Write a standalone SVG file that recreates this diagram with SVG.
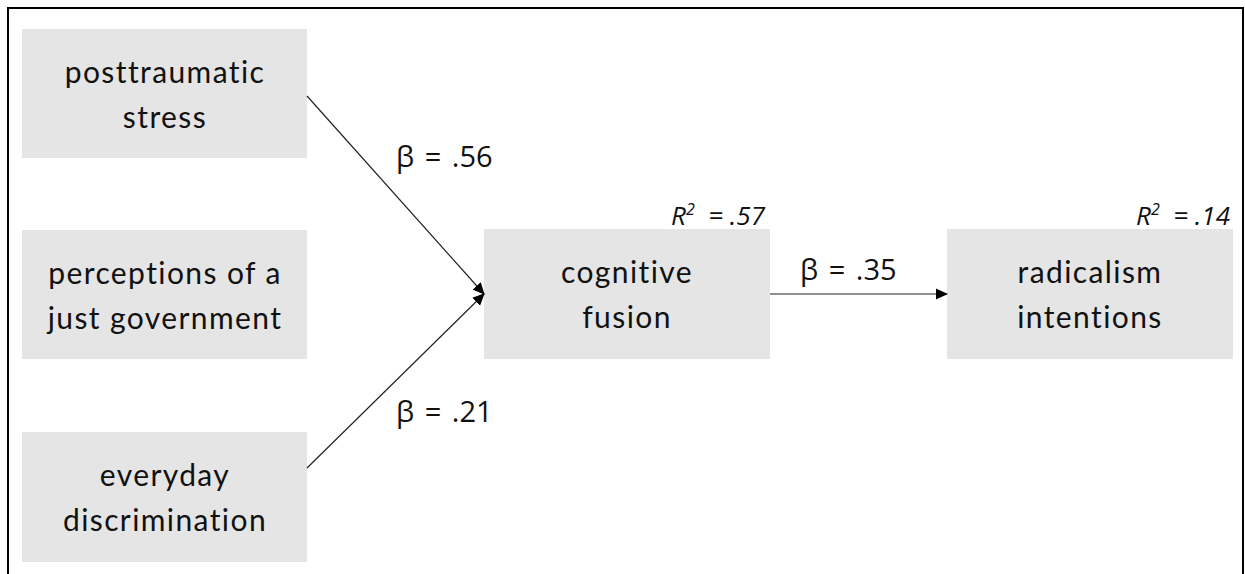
<svg xmlns="http://www.w3.org/2000/svg" width="1245" height="574" viewBox="0 0 1245 574">
<style>
.box{fill:#e5e5e5}
.lbl{font-family:Lato,"Open Sans",sans-serif;font-size:30px;letter-spacing:1.4px;fill:#111;text-anchor:middle}
.b{font-family:"Open Sans","Liberation Sans",sans-serif;font-size:29px;word-spacing:3px;fill:#111}
.r{font-family:"Open Sans","Liberation Sans",sans-serif;font-size:26px;font-style:italic;fill:#111}
.c{stroke:#222;stroke-width:1.2;fill:none}
</style>
<defs>
<marker id="ah" markerWidth="12" markerHeight="12" refX="11" refY="6" orient="auto" markerUnits="userSpaceOnUse" viewBox="0 0 12 12">
<path d="M0,0.5 L12,6 L0,11.5 z" fill="#000"/>
</marker>
</defs>
<rect width="1245" height="574" fill="#fff"/>
<path d="M8,574 V8 H1243 V574" fill="none" stroke="#000" stroke-width="2"/>
<g id="n1"><rect class="box" x="22" y="29" width="285" height="129"/>
<text class="lbl" x="165" y="83">posttraumatic</text><text class="lbl" x="165" y="128">stress</text></g>
<g id="n2"><rect class="box" x="22" y="230" width="285" height="129"/>
<text class="lbl" x="165" y="284">perceptions of a</text><text class="lbl" x="165" y="329">just government</text></g>
<g id="n3"><rect class="box" x="22" y="432" width="285" height="130"/>
<text class="lbl" x="165" y="486">everyday</text><text class="lbl" x="165" y="531">discrimination</text></g>
<g id="n4"><rect class="box" x="484" y="229" width="286" height="130"/>
<text class="lbl" x="627" y="283">cognitive</text><text class="lbl" x="627" y="328">fusion</text>
<text class="r" x="765" y="225" text-anchor="end" xml:space="preserve">R<tspan dy="-10" font-size="16">2</tspan><tspan dy="10">  = .57</tspan></text></g>
<g id="n5"><rect class="box" x="947" y="229" width="286" height="130"/>
<text class="lbl" x="1090" y="283">radicalism</text><text class="lbl" x="1090" y="328">intentions</text>
<text class="r" x="1230" y="225" text-anchor="end" xml:space="preserve">R<tspan dy="-10" font-size="16">2</tspan><tspan dy="10">  = .14</tspan></text></g>
<g id="connectors">
<line class="c" x1="307" y1="96" x2="484" y2="294" marker-end="url(#ah)"/>
<line class="c" x1="307" y1="468" x2="484" y2="294" marker-end="url(#ah)"/>
<line class="c" x1="770" y1="294" x2="947" y2="294" marker-end="url(#ah)"/>
<text class="b" x="396" y="167">β = .56</text>
<text class="b" x="396" y="422">β = .21</text>
<text class="b" x="800" y="280">β = .35</text>
</g>
</svg>
